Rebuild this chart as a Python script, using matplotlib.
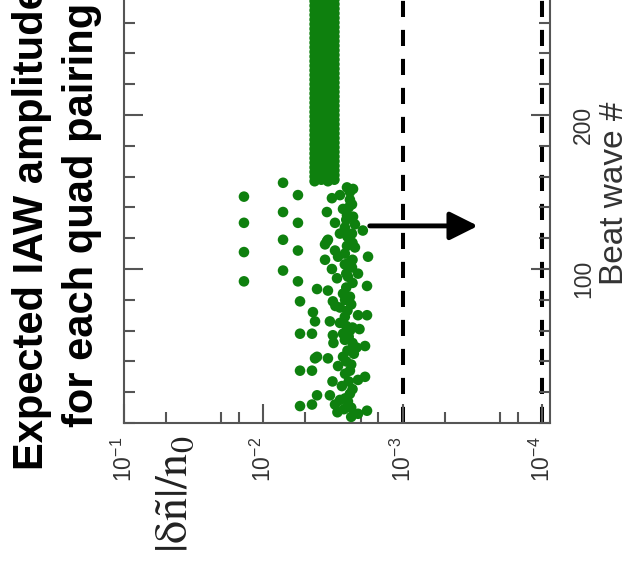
import matplotlib
matplotlib.use("Agg")
import matplotlib.pyplot as plt
from matplotlib.ticker import FixedLocator, MultipleLocator, NullFormatter


# upper dense column (beat wave # > ~155): four amplitude lanes
upper_beats_a = [157, 160, 163, 166, 169, 172, 175, 178, 181, 184, 187, 190,
                 193, 196, 199, 202, 205, 208, 211, 214, 217, 220, 223, 226,
                 229, 232, 235, 238, 241, 244, 247, 250, 253, 256, 259, 262,
                 265, 268, 271, 274, 277, 280, 283, 286, 289, 292, 295, 298]
upper_beats_b = [158, 161, 164, 167, 170, 173, 176, 179, 182, 185, 188, 191,
                 194, 197, 200, 203, 206, 209, 212, 215, 218, 221, 224, 227,
                 230, 233, 236, 239, 242, 245, 248, 251, 254, 257, 260, 263,
                 266, 269, 272, 275, 278, 281, 284, 287, 290, 293, 296, 299]
upper_lane_amps = [4.30e-3, 3.85e-3, 3.45e-3, 3.10e-3]

# scattered points below beat ~155
low_beats = [147, 130, 111, 92,
             156, 137, 119, 99,
             148, 130, 112, 92,
             146, 137, 130, 118, 112, 153, 152, 142, 135, 134, 127, 123,
             115, 114, 119, 116, 108, 125, 148, 145, 139, 129, 123, 118,
             110, 108,
             79, 72, 66, 58, 58, 87, 86, 106, 100, 94, 103, 101, 95, 89,
             84, 82, 79, 75, 70, 70, 69, 66, 65, 60, 58,
             57, 54, 50, 43, 42, 43, 34, 34, 37, 34, 30, 28, 24, 19, 18,
             18, 15, 12, 11, 12, 14, 6, 8, 42,
             104, 97, 91, 88, 80, 77, 73, 63, 62, 56, 52, 47, 45, 40, 38,
             32, 27, 22, 16, 10, 9, 4, 150, 140, 132, 121, 117, 106, 97,
             61, 49, 76, 52, 27, 7]
low_amps = [1.38e-2, 1.38e-2, 1.38e-2, 1.38e-2,
            7.24e-3, 7.24e-3, 7.24e-3, 7.24e-3,
            5.66e-3, 5.66e-3, 5.66e-3, 5.66e-3,
            3.23e-3, 3.51e-3, 3.07e-3, 3.51e-3, 3.07e-3, 2.52e-3, 2.28e-3,
            2.32e-3, 2.52e-3, 2.28e-3, 2.61e-3, 2.32e-3, 2.52e-3, 2.21e-3,
            3.45e-3, 3.62e-3, 1.78e-3, 1.94e-3, 2.83e-3, 2.40e-3, 2.69e-3,
            2.21e-3, 2.83e-3, 2.40e-3, 2.61e-3, 2.92e-3,
            5.47e-3, 4.42e-3, 4.27e-3, 5.47e-3, 4.49e-3, 4.13e-3, 3.45e-3,
            3.62e-3, 3.23e-3, 2.97e-3, 2.61e-3, 2.32e-3, 2.48e-3, 1.81e-3,
            2.69e-3, 2.40e-3, 3.18e-3, 2.83e-3, 2.10e-3, 1.81e-3, 2.61e-3,
            3.34e-3, 2.83e-3, 2.40e-3, 2.69e-3,
            3.18e-3, 2.61e-3, 1.87e-3, 4.13e-3, 3.45e-3, 2.69e-3, 5.47e-3,
            4.49e-3, 2.92e-3, 2.40e-3, 1.87e-3, 2.10e-3, 2.74e-3, 2.40e-3,
            4.13e-3, 3.34e-3, 2.83e-3, 3.07e-3, 5.47e-3, 4.49e-3, 2.48e-3,
            2.10e-3, 1.81e-3, 4.27e-3,
            2.45e-3, 2.55e-3, 2.30e-3, 2.55e-3, 2.60e-3, 2.35e-3, 2.50e-3,
            2.55e-3, 2.30e-3, 2.45e-3, 2.30e-3, 2.50e-3, 2.25e-3, 2.55e-3,
            2.35e-3, 2.60e-3, 2.45e-3, 2.30e-3, 2.60e-3, 2.35e-3, 2.65e-3,
            2.35e-3, 2.40e-3, 2.45e-3, 2.55e-3, 2.50e-3, 2.30e-3, 2.30e-3,
            2.10e-3, 2.05e-3, 2.15e-3, 3.05e-3, 3.15e-3, 3.20e-3, 2.95e-3]

threshold_levels = [1e-3, 1e-4]
arrow_from = (1.73e-3, 128)
arrow_to = (2.90e-4, 128)

x_major = [1e-1, 1e-2, 1e-3, 1e-4]
x_minor = [5e-2, 2e-2, 1.5e-2, 5e-3, 2e-3, 1.5e-3, 5e-4, 2e-4, 1.5e-4]
y_major = [100, 200]

GREEN = "#0e800e"
AXC = "#555555"

plt.rcParams["font.family"] = ["Liberation Sans", "DejaVu Sans"]
plt.rcParams["mathtext.fontset"] = "custom"
plt.rcParams["mathtext.rm"] = "Liberation Sans"
plt.rcParams["mathtext.it"] = "Liberation Sans:italic"
plt.rcParams["mathtext.bf"] = "Liberation Sans:bold"

fig = plt.figure(figsize=(6.3, 5.75), dpi=100)
# the chart is shown turned a quarter turn: axes top runs past the image edge
ax = fig.add_axes([0.1968, 0.2643, 0.6762, 0.8035])
ax.set_xscale("log")
ax.set_xlim(1e-1, 8.83e-5)
ax.set_ylim(0, 300)

for lvl in threshold_levels:
    ax.axvline(lvl, color="black", lw=2.9, ls=(0, (4, 3.2)), zorder=1)

for i, amp in enumerate(upper_lane_amps):
    beats = upper_beats_a if i % 2 == 0 else upper_beats_b
    ax.scatter([amp] * len(beats), beats, s=58, color=GREEN,
               edgecolors="none", zorder=3)
ax.scatter(low_amps, low_beats, s=58, color=GREEN, edgecolors="none", zorder=3)

ax.annotate("", xy=arrow_to, xytext=arrow_from,
            arrowprops=dict(arrowstyle="-|>,head_length=1.0,head_width=0.5",
                            lw=3.5, color="black", mutation_scale=17,
                            shrinkA=0, shrinkB=0), zorder=4)

for sp in ax.spines.values():
    sp.set_color(AXC)
    sp.set_linewidth(1.5)

ax.xaxis.set_major_locator(FixedLocator(x_major))
ax.xaxis.set_minor_locator(FixedLocator(x_minor))
ax.xaxis.set_minor_formatter(NullFormatter())
ax.yaxis.set_major_locator(FixedLocator(y_major))
ax.yaxis.set_minor_locator(MultipleLocator(20))

ax.tick_params(which="both", direction="in", top=True, bottom=True,
               left=True, right=True, color=AXC, width=1.5)
ax.tick_params(which="major", length=13.5)
ax.tick_params(which="minor", length=8)
ax.tick_params(axis="x", labelrotation=90, labelsize=16.5, pad=10,
               labelcolor="#333333")
ax.tick_params(axis="y", labelleft=False, labelright=True, labelrotation=90,
               labelsize=16.5, pad=16, labelcolor="#333333")

rot = dict(rotation=90, rotation_mode="anchor", ha="left", va="baseline")
fig.text(43 / 630, 1 - 470 / 575, "Expected IAW amplitude", fontsize=30,
         fontweight="bold", color="black", **rot)
fig.text(93 / 630, 1 - 427 / 575, "for each quad pairing", fontsize=30,
         fontweight="bold", color="black", **rot)
fig.text(188 / 630, 1 - 553 / 575, r"$\mathrm{|\delta\tilde{n}|/n_0}$",
         fontsize=33, color="#222222", math_fontfamily="stix", **rot)
fig.text(623 / 630, 1 - 285 / 575, "Beat wave #", fontsize=24,
         color="#333333", **rot)

fig.savefig("out.png", dpi=100)
